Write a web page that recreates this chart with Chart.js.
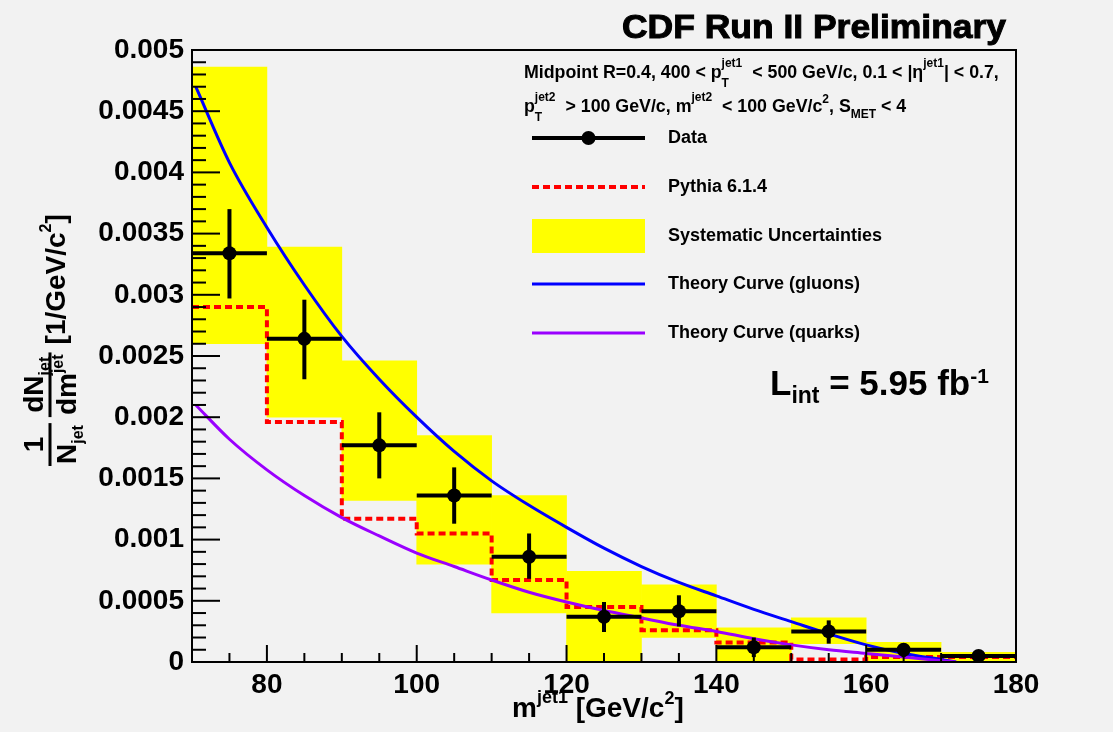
<!DOCTYPE html>
<html>
<head>
<meta charset="utf-8">
<title>CDF Run II jet mass</title>
<script src="https://cdn.jsdelivr.net/npm/chart.js@4.4.1/dist/chart.umd.min.js"></script>
<style>
  html, body { margin: 0; padding: 0; background: #f2f2f2; }
  canvas { display: block; }
</style>
</head>
<body>
<canvas id="massChart" width="1113" height="732"></canvas>
<script>
// bins in m^jet1 [GeV/c^2]
var binLow    = [70, 80, 90, 100, 110, 120, 130, 140, 150, 160, 170];
var binCenter = [75, 85, 95, 105, 115, 125, 135, 145, 155, 165, 175];
var binWidth  = 10;

// data points, and the ends of the error bars
var dataVal  = [0.00334, 0.00264, 0.00177, 0.00136, 0.00086, 0.00037, 0.000415, 0.00012, 0.00025, 0.0001, 0.00005];
var dataHigh = [0.00370, 0.00296, 0.00204, 0.00159, 0.00105, 0.00049, 0.000545, 0.0002, 0.00034, 0.00015, 0.00007];
var dataLow  = [0.00297, 0.00231, 0.00150, 0.00113, 0.00068, 0.000245, 0.00029, 0.00004, 0.00015, 0.00004, 0.00003];

// systematic uncertainty band per bin
var systLow  = [0.0026, 0.0020, 0.00132, 0.0008, 0.0004, 0, 0.0002, 0, 0.00015, 0, 0];
var systHigh = [0.00486, 0.00339, 0.00246, 0.00185, 0.00136, 0.00074, 0.00063, 0.00028, 0.00036, 0.00016, 0.00008];

// Pythia 6.1.4 histogram
var pythiaVal = [0.0029, 0.00196, 0.00117, 0.00105, 0.00067, 0.00045, 0.00026, 0.00016, 0.00002, 0.00004, 0.00004];

// theory curves
var curveX = [70.5, 75, 80, 85, 90, 95, 100, 105, 110, 115, 120, 125, 130, 135, 140, 145, 150, 155, 160, 165, 170, 172];
var gluonY = [0.0047, 0.00408, 0.00355, 0.00308, 0.00266, 0.00231, 0.002, 0.00172, 0.00148, 0.00128, 0.0011, 0.00093, 0.00078, 0.00065, 0.00054, 0.00043, 0.00033, 0.00023, 0.00014, 0.00007, 0.00002, 0];
var quarkY = [0.0021, 0.00182, 0.00157, 0.00136, 0.00118, 0.00103, 0.00089, 0.00078, 0.00067, 0.00057, 0.00049, 0.00042, 0.00036, 0.0003, 0.00025, 0.00019, 0.00014, 0.0001, 0.00007, 0.00004, 0.00001, 0];

// axis ticks
var xTicks = [80, 100, 120, 140, 160, 180];
var yTicks = [0, 0.0005, 0.001, 0.0015, 0.002, 0.0025, 0.003, 0.0035, 0.004, 0.0045, 0.005];
var xMinorStep = 5;
var yMinorStep = 0.0001;

var seriesNames = ['Data', 'Pythia 6.1.4', 'Systematic Uncertainties', 'Theory Curve (gluons)', 'Theory Curve (quarks)'];

var FONT = '"Liberation Sans", Arial, Helvetica, sans-serif';
Chart.defaults.font.family = FONT;
Chart.defaults.font.weight = 'bold';
Chart.defaults.color = '#000';

// small helper for text with super/subscripts: [text, size, shift] or a stack of them
function segWidth(ctx, seg) {
    if (Array.isArray(seg[0])) {
        return Math.max.apply(null, seg.map(function (s) { return segWidth(ctx, s); }));
    }
    ctx.font = 'bold ' + seg[1] + 'px ' + FONT;
    return ctx.measureText(seg[0]).width;
}
function richWidth(ctx, segs) {
    var w = 0;
    segs.forEach(function (s) { w += segWidth(ctx, s); });
    return w;
}
function drawRich(ctx, x, y, segs) {
    ctx.textAlign = 'left';
    ctx.textBaseline = 'alphabetic';
    segs.forEach(function (seg) {
        var parts = Array.isArray(seg[0]) ? seg : [seg];
        parts.forEach(function (p) {
            ctx.font = 'bold ' + p[1] + 'px ' + FONT;
            ctx.fillText(p[0], x, y + p[2]);
        });
        x += segWidth(ctx, seg);
    });
    return x;
}
function drawFrac(ctx, u, num, den) {
    var wn = richWidth(ctx, num), wd = richWidth(ctx, den);
    var w = Math.max(wn, wd) + 4;
    drawRich(ctx, u + (w - wn) / 2, -7, num);
    drawRich(ctx, u + (w - wd) / 2, 26, den);
    ctx.fillRect(u, -1.5, w, 3);
    return w;
}
function line(ctx, x1, y1, x2, y2) {
    ctx.beginPath();
    ctx.moveTo(x1, y1);
    ctx.lineTo(x2, y2);
    ctx.stroke();
}

var decor = {
    id: 'cdfDecor',
    beforeDraw: function (chart) {
        var ctx = chart.ctx;
        ctx.save();
        ctx.fillStyle = '#f2f2f2';
        ctx.fillRect(0, 0, chart.width, chart.height);
        ctx.restore();
    },
    // error bars under the data markers
    beforeDatasetDraw: function (chart, args) {
        if (args.index !== 0) return;
        var ctx = chart.ctx, xs = chart.scales.x, ys = chart.scales.y;
        ctx.save();
        ctx.strokeStyle = '#000';
        ctx.lineWidth = 4;
        for (var i = 0; i < binCenter.length; i++) {
            var px = xs.getPixelForValue(binCenter[i]);
            var py = ys.getPixelForValue(dataVal[i]);
            line(ctx, xs.getPixelForValue(binCenter[i] - binWidth / 2), py, xs.getPixelForValue(binCenter[i] + binWidth / 2), py);
            line(ctx, px, ys.getPixelForValue(dataHigh[i]), px, ys.getPixelForValue(dataLow[i]));
        }
        ctx.restore();
    },
    afterDraw: function (chart) {
        var ctx = chart.ctx, xs = chart.scales.x, ys = chart.scales.y, a = chart.chartArea;
        ctx.save();
        ctx.strokeStyle = '#000';
        ctx.fillStyle = '#000';

        // frame
        ctx.lineWidth = 2;
        ctx.strokeRect(a.left, a.top, a.right - a.left, a.bottom - a.top);

        // ticks point into the frame
        var nx = Math.round((xs.max - xs.min) / xMinorStep);
        for (var k = 1; k < nx; k++) {
            var xv = xs.min + k * xMinorStep;
            var px = xs.getPixelForValue(xv);
            line(ctx, px, a.bottom, px, a.bottom - (xTicks.indexOf(xv) >= 0 ? 17 : 9));
        }
        var ny = Math.round((ys.max - ys.min) / yMinorStep);
        for (var j = 1; j <= ny; j++) {
            var py = ys.getPixelForValue(ys.min + j * yMinorStep);
            line(ctx, a.left, py, a.left + (j % 5 === 0 ? 28 : 14), py);
        }

        // title, a bit heavier than plain bold
        ctx.font = 'bold 33px ' + FONT;
        var tw = ctx.measureText('CDF Run II Preliminary').width;
        ctx.save();
        ctx.translate(622, 38);
        ctx.scale(384 / tw, 1);
        ctx.textAlign = 'left';
        ctx.textBaseline = 'alphabetic';
        ctx.lineWidth = 1;
        ctx.fillText('CDF Run II Preliminary', 0, 0);
        ctx.strokeText('CDF Run II Preliminary', 0, 0);
        ctx.restore();

        // x axis title
        drawRich(ctx, 512, 717, [['m', 28, 0], ['jet1', 18, -14], [' [GeV/c', 28, 0], ['2', 18, -13], [']', 28, 0]]);

        // y axis title, rotated
        ctx.save();
        ctx.translate(50, 466);
        ctx.rotate(-Math.PI / 2);
        var u = 0;
        u += drawFrac(ctx, u, [['1', 28, 0]], [['N', 28, 0], ['jet', 16, 7]]);
        u += 6;
        u += drawFrac(ctx, u, [['dN', 28, 0], ['jet', 16, 7]], [['dm', 28, 0], ['jet', 16, -13]]);
        u += 8;
        drawRich(ctx, u, 15, [['[1/GeV/c', 28, 0], ['2', 16, -14], [']', 28, 0]]);
        ctx.restore();

        // legend header
        drawRich(ctx, 524, 78, [['Midpoint R=0.4, 400 < p', 17.8, 0], [['jet1', 12, -11], ['T', 12, 9]],
            ['  < 500 GeV/c, 0.1 < |\u03b7', 17.8, 0], ['jet1', 12, -11], ['| < 0.7,', 17.8, 0]]);
        drawRich(ctx, 524, 112, [['p', 17.8, 0], [['jet2', 12, -11], ['T', 12, 9]], ['  > 100 GeV/c, m', 17.8, 0],
            ['jet2', 12, -11], ['  < 100 GeV/c', 17.8, 0], ['2', 12, -9], [', S', 17.8, 0], ['MET', 12, 6], [' < 4', 17.8, 0]]);

        // legend entries
        var lx1 = 532, lx2 = 645, rows = [138, 187, 236, 284, 333];
        ctx.lineWidth = 4;
        ctx.strokeStyle = '#000';
        line(ctx, lx1, rows[0], lx2, rows[0]);
        ctx.beginPath();
        ctx.arc((lx1 + lx2) / 2, rows[0], 7, 0, Math.PI * 2);
        ctx.fill();
        ctx.strokeStyle = '#ff0000';
        ctx.setLineDash([7, 4]);
        line(ctx, lx1, rows[1], lx2, rows[1]);
        ctx.setLineDash([]);
        ctx.fillStyle = '#ffff00';
        ctx.fillRect(lx1, rows[2] - 17, lx2 - lx1, 34);
        ctx.lineWidth = 3;
        ctx.strokeStyle = '#0000ff';
        line(ctx, lx1, rows[3], lx2, rows[3]);
        ctx.strokeStyle = '#9a00ff';
        line(ctx, lx1, rows[4], lx2, rows[4]);
        ctx.fillStyle = '#000';
        ctx.font = 'bold 18px ' + FONT;
        ctx.textAlign = 'left';
        ctx.textBaseline = 'middle';
        seriesNames.forEach(function (n, i) { ctx.fillText(n, 668, rows[i]); });

        // luminosity
        drawRich(ctx, 770, 395, [['L', 35, 0], ['int', 23, 8], [' = 5.95 fb', 35, 0], ['-1', 21, -12]]);
        ctx.restore();
    }
};

var pythiaPts = binLow.map(function (x, i) { return { x: x, y: pythiaVal[i] }; });
pythiaPts.push({ x: binLow[binLow.length - 1] + binWidth, y: pythiaVal[pythiaVal.length - 1] });

var chart = new Chart(document.getElementById('massChart'), {
    type: 'scatter',
    data: {
        datasets: [{
            type: 'scatter',
            label: seriesNames[0],
            data: binCenter.map(function (x, i) { return { x: x, y: dataVal[i] }; }),
            pointRadius: 7,
            pointBackgroundColor: '#000',
            pointBorderWidth: 0,
            order: 0
        }, {
            type: 'line',
            label: seriesNames[4],
            data: curveX.map(function (x, i) { return { x: x, y: quarkY[i] }; }),
            borderColor: '#9a00ff',
            borderWidth: 3,
            pointRadius: 0,
            cubicInterpolationMode: 'monotone',
            fill: false,
            order: 1
        }, {
            type: 'line',
            label: seriesNames[3],
            data: curveX.map(function (x, i) { return { x: x, y: gluonY[i] }; }),
            borderColor: '#0000ff',
            borderWidth: 3,
            pointRadius: 0,
            cubicInterpolationMode: 'monotone',
            fill: false,
            order: 2
        }, {
            type: 'line',
            label: seriesNames[1],
            data: pythiaPts,
            borderColor: '#ff0000',
            borderWidth: 4,
            borderDash: [7, 4],
            stepped: 'before',
            pointRadius: 0,
            fill: false,
            order: 3
        }, {
            type: 'bar',
            label: seriesNames[2],
            data: binCenter.map(function (x, i) { return { x: x, y: [systLow[i], systHigh[i]] }; }),
            backgroundColor: '#ffff00',
            borderWidth: 0,
            barPercentage: 1,
            categoryPercentage: 1,
            order: 4
        }]
    },
    options: {
        responsive: false,
        animation: false,
        devicePixelRatio: 1,
        events: [],
        layout: { padding: { left: 0, right: 97, top: 50, bottom: 0 } },
        plugins: { legend: { display: false }, tooltip: { enabled: false } },
        scales: {
            x: {
                type: 'linear',
                min: 70,
                max: 180,
                offset: false,
                grid: { display: false, drawTicks: false, offset: false },
                border: { display: false },
                afterBuildTicks: function (scale) {
                    scale.ticks = xTicks.map(function (v) { return { value: v }; });
                },
                afterFit: function (scale) { scale.height = 70; },
                ticks: { padding: 6, maxRotation: 0, font: { size: 28, weight: 'bold' } }
            },
            y: {
                type: 'linear',
                min: 0,
                max: 0.005,
                grid: { display: false, drawTicks: false },
                border: { display: false },
                afterBuildTicks: function (scale) {
                    scale.ticks = yTicks.map(function (v) { return { value: v }; });
                },
                afterFit: function (scale) { scale.width = 192; },
                ticks: {
                    padding: 8,
                    font: { size: 28, weight: 'bold' },
                    callback: function (v) { return String(parseFloat(v.toFixed(4))); }
                }
            }
        }
    },
    plugins: [decor]
});
</script>
</body>
</html>
